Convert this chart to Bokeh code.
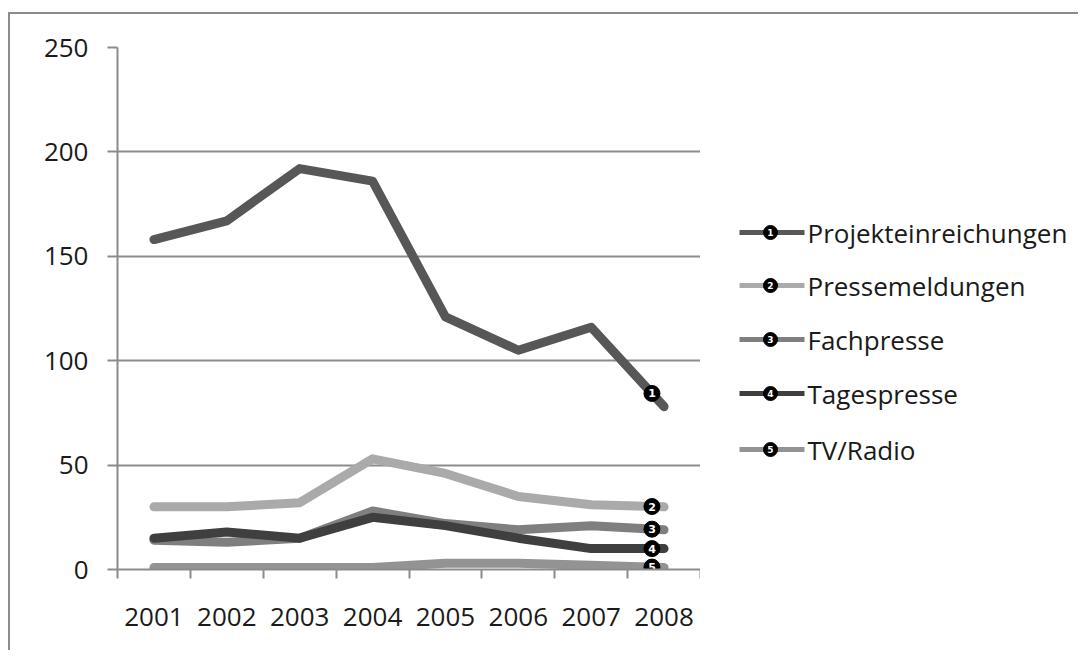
from bokeh.plotting import figure
from bokeh.models import Range1d, FixedTicker, CustomJSTickFormatter
from bokeh.layouts import row
from bokeh.embed import file_html
from bokeh.resources import INLINE
from bokeh.core.properties import value

# ---- data ----
years = ["2001", "2002", "2003", "2004", "2005", "2006", "2007", "2008"]
projekteinreichungen = [158, 167, 192, 186, 121, 105, 116, 78]
pressemeldungen = [30, 30, 32, 53, 46, 35, 31, 30]
fachpresse = [14, 13, 15, 28, 22, 19, 21, 19]
tagespresse = [15, 18, 15, 25, 21, 15, 10, 10]
tv_radio = [1, 1, 1, 1, 3, 3, 2, 1]
series_names = ["Projekteinreichungen", "Pressemeldungen", "Fachpresse", "Tagespresse", "TV/Radio"]
y_ticks = [0, 50, 100, 150, 200, 250]

series = [projekteinreichungen, pressemeldungen, fachpresse, tagespresse, tv_radio]
colors = ["#575757", "#aaaaaa", "#7f7f7f", "#3f3f3f", "#939393"]
digits = ["1", "2", "3", "4", "5"]

FONT = "Open Sans"
TEXT_COLOR = "#1a1a1a"
GRID_COLOR = "#8c8c8c"

BORDER_TOP = 33
BORDER_BOTTOM = 81

xs = [i + 0.5 for i in range(len(years))]

p = figure(width=690, height=636, x_range=Range1d(0, len(years)), y_range=Range1d(0, 250),
           output_backend="svg", toolbar_location=None,
           min_border_left=107, min_border_right=0,
           min_border_top=BORDER_TOP, min_border_bottom=BORDER_BOTTOM)
p.outline_line_color = None
p.background_fill_color = "white"
p.border_fill_color = "white"
p.xgrid.visible = False
p.ygrid.ticker = FixedTicker(ticks=y_ticks[1:])
p.ygrid.grid_line_color = GRID_COLOR
p.ygrid.grid_line_width = 2

p.yaxis.ticker = FixedTicker(ticks=y_ticks)
p.yaxis.axis_line_color = GRID_COLOR
p.yaxis.axis_line_width = 2
p.yaxis.major_tick_line_color = GRID_COLOR
p.yaxis.major_tick_line_width = 2
p.yaxis.major_tick_out = 10
p.yaxis.major_tick_in = 0
p.yaxis.minor_tick_line_color = None
p.yaxis.major_label_standoff = 19
p.yaxis.major_label_text_font = FONT
p.yaxis.major_label_text_font_size = "26px"
p.yaxis.major_label_text_color = TEXT_COLOR

p.xaxis.ticker = FixedTicker(ticks=xs, minor_ticks=list(range(len(years) + 1)))
p.xaxis.formatter = CustomJSTickFormatter(args=dict(labels=years),
                                          code="return labels[Math.round(tick - 0.5)];")
p.xaxis.axis_line_color = GRID_COLOR
p.xaxis.axis_line_width = 2
p.xaxis.major_tick_line_color = None
p.xaxis.major_tick_out = 0
p.xaxis.major_tick_in = 0
p.xaxis.minor_tick_line_color = GRID_COLOR
p.xaxis.minor_tick_line_width = 2
p.xaxis.minor_tick_out = 9
p.xaxis.minor_tick_in = 0
p.xaxis.major_label_standoff = 29
p.xaxis.major_label_text_font = FONT
p.xaxis.major_label_text_font_size = "26px"
p.xaxis.major_label_text_color = TEXT_COLOR

for s, c in zip(series, colors):
    p.line(xs, s, line_color=c, line_width=9, line_cap="round", line_join="round")

# end markers, a little before the last point along the line
frac = 12 / 72.25
for s, d in zip(series, digits):
    xm = xs[-1] - frac
    ym = s[-1] + (s[-2] - s[-1]) * frac
    p.scatter([xm], [ym], size=16, fill_color="black", line_color="black")
    p.text([xm], [ym], text=[d], text_color="white", text_font=value("DejaVu Sans"),
           text_font_style="bold", text_font_size="11px", text_align="center",
           text_baseline="middle")

# ---- legend panel (its frame is aligned with the chart frame: page y 47..569) ----
leg = figure(width=378, height=636, x_range=Range1d(700, 1078), y_range=Range1d(569, 47),
             output_backend="svg", toolbar_location=None,
             min_border_left=0, min_border_right=0,
             min_border_top=BORDER_TOP, min_border_bottom=BORDER_BOTTOM)
leg.axis.visible = False
leg.grid.visible = False
leg.outline_line_color = None
leg.background_fill_color = "white"
leg.border_fill_color = "white"

row_y = [232, 285, 339, 393, 449]
for name, c, d, ry in zip(series_names, colors, digits, row_y):
    leg.line([739, 804], [ry, ry], line_color=c, line_width=5)
    leg.scatter([770], [ry], size=14, fill_color="black", line_color="black")
    leg.text([770], [ry], text=[d], text_color="white", text_font=value("DejaVu Sans"),
             text_font_style="bold", text_font_size="9px", text_align="center",
             text_baseline="middle")
    leg.text([807], [ry], text=[name], text_color=TEXT_COLOR, text_font=value(FONT),
             text_font_size="26px", text_align="left", text_baseline="middle")

layout = row(p, leg, styles={"border-top": "2px solid #8c8c8c",
                             "border-left": "2px solid #8c8c8c",
                             "margin-top": "12px",
                             "margin-left": "8px"})

open("out.html", "w").write(file_html(layout, INLINE))
